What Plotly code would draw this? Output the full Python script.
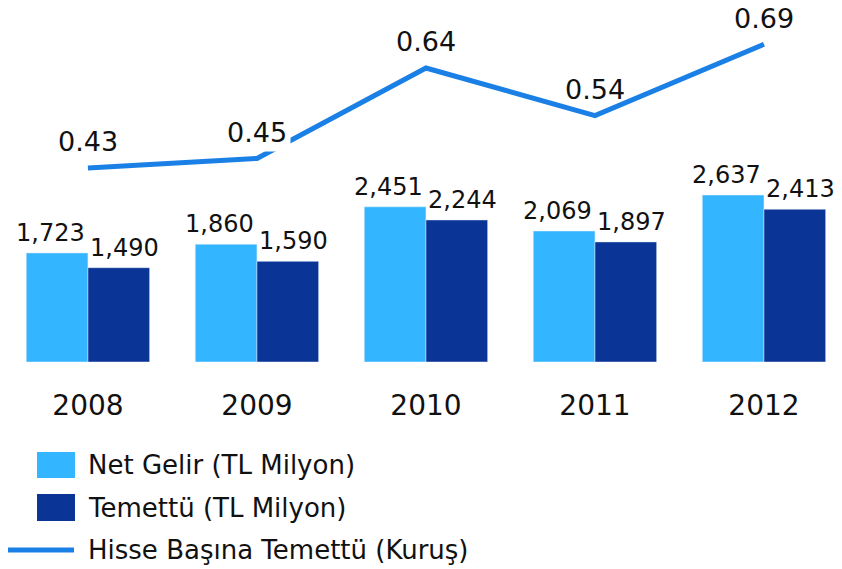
import plotly.graph_objects as go

years = ["2008", "2009", "2010", "2011", "2012"]
net_gelir = [1723, 1860, 2451, 2069, 2637]
temettu = [1490, 1590, 2244, 1897, 2413]
hisse = [0.43, 0.45, 0.64, 0.54, 0.69]

net_labels = ["1,723", "1,860", "2,451", "2,069", "2,637"]
tem_labels = ["1,490", "1,590", "2,244", "1,897", "2,413"]
hisse_labels = ["0.43", "0.45", "0.64", "0.54", "0.69"]

legend_names = ["Net Gelir (TL Milyon)", "Temettü (TL Milyon)", "Hisse Başına Temettü (Kuruş)"]

LIGHT = "#33b6ff"
DARK = "#0a3597"
LINE = "#1a80e6"
FONT = "DejaVu Sans"
W, H = 842, 569
OFF = 8  # page body margin
PLOT_BOTTOM = 362 - OFF

fig = go.Figure()
fig.add_trace(go.Bar(x=years, y=net_gelir, marker_color=LIGHT, name=legend_names[0]))
fig.add_trace(go.Bar(x=years, y=temettu, marker_color=DARK, name=legend_names[1]))
fig.add_trace(go.Scatter(x=years, y=hisse, mode="lines", yaxis="y2",
                         line=dict(color=LINE, width=5), name=legend_names[2]))

# bar value labels, nudged outward like the reference
for i, (v1, l1, v2, l2) in enumerate(zip(net_gelir, net_labels, temettu, tem_labels)):
    fig.add_annotation(x=i, y=v1, xref="x", yref="y", text=l1, showarrow=False,
                       xshift=-37, yanchor="bottom", yshift=4,
                       font=dict(size=24, color="#111", family=FONT))
    fig.add_annotation(x=i, y=v2, xref="x", yref="y", text=l2, showarrow=False,
                       xshift=37, yanchor="bottom", yshift=4,
                       font=dict(size=24, color="#111", family=FONT))

for i, (v, lab) in enumerate(zip(hisse, hisse_labels)):
    # the rising segment after 2009 passes behind its label
    has_bg = (i == 1)
    fig.add_annotation(x=i, y=v, xref="x", yref="y2", text=lab, showarrow=False,
                       yshift=26, font=dict(size=27, color="#111", family=FONT),
                       bgcolor="white" if has_bg else "rgba(0,0,0,0)",
                       borderpad=3 if has_bg else 0)

# custom legend
def py(p):
    return (PLOT_BOTTOM - (p - OFF)) / PLOT_BOTTOM

def px(p):
    return max(p - OFF, 0) / W

fig.add_shape(type="rect", xref="paper", yref="paper", x0=px(37), x1=px(75),
              y0=py(478), y1=py(452), fillcolor=LIGHT, line_width=0)
fig.add_shape(type="rect", xref="paper", yref="paper", x0=px(37), x1=px(75),
              y0=py(521), y1=py(494), fillcolor=DARK, line_width=0)
fig.add_shape(type="line", xref="paper", yref="paper", x0=px(5), x1=px(74),
              y0=py(550), y1=py(550), line=dict(color=LINE, width=5))
for name, cy in zip(legend_names, [465, 508, 550]):
    fig.add_annotation(xref="paper", yref="paper", x=px(86), y=py(cy), text=name,
                       showarrow=False, xanchor="left", yanchor="middle",
                       font=dict(size=26, color="#111", family=FONT))

fig.update_layout(
    width=W, height=H,
    margin=dict(l=0, r=0, t=0, b=H - PLOT_BOTTOM),
    plot_bgcolor="white", paper_bgcolor="white",
    showlegend=False,
    barmode="group", bargap=0.27, bargroupgap=0,
    font=dict(family=FONT, color="#111"),
    xaxis=dict(type="category", range=[-0.473, 4.509], showgrid=False, zeroline=False,
               showline=False, ticks="outside", ticklen=0, ticklabelstandoff=18,
               tickfont=dict(size=28, color="#111", family=FONT)),
    yaxis=dict(range=[0, 5592], visible=False, showgrid=False),
    yaxis2=dict(range=[0.0224, 0.766], overlaying="y", visible=False, showgrid=False),
)

fig.write_html("out.html")
